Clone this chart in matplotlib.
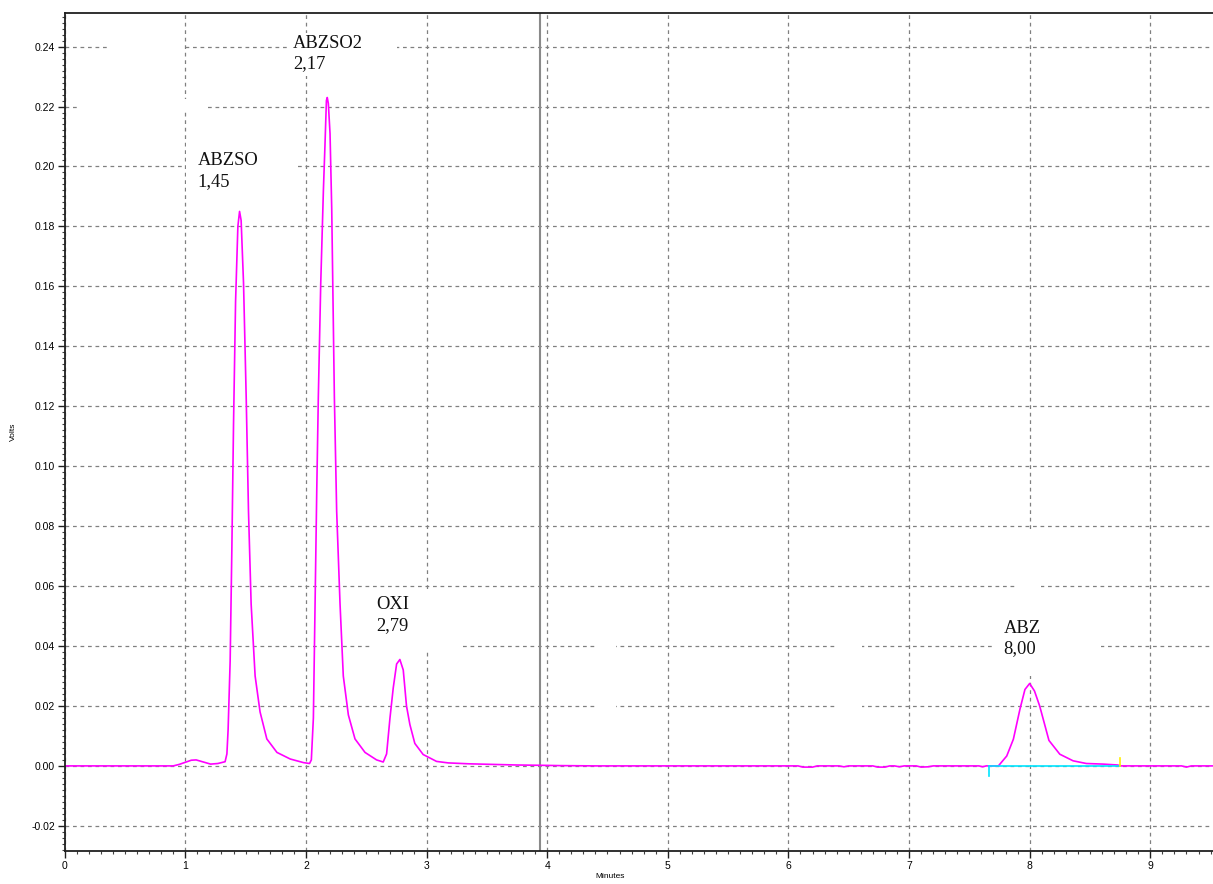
import matplotlib
matplotlib.use('Agg')
import matplotlib.pyplot as plt
from matplotlib.patches import Rectangle
from matplotlib.ticker import MultipleLocator, FormatStrFormatter
import numpy as np

# detector trace, read point by point (minutes, volts)
time_min = [0.00, 0.90, 0.95, 1.00, 1.05, 1.09, 1.15, 1.21, 1.27, 1.33,
            1.345, 1.355, 1.372, 1.386, 1.400, 1.417, 1.436, 1.450, 1.463, 1.483,
            1.505, 1.524, 1.546, 1.579, 1.620, 1.676, 1.76, 1.87, 1.98, 2.03,
            2.045, 2.062, 2.076, 2.090, 2.103, 2.123, 2.145, 2.158, 2.170, 2.177,
            2.186, 2.200, 2.214, 2.236, 2.255, 2.283, 2.310, 2.352, 2.407, 2.49,
            2.586, 2.641, 2.669, 2.697, 2.724, 2.752, 2.779, 2.807, 2.834, 2.862,
            2.903, 2.972, 3.083, 3.18, 3.35, 3.55, 3.75, 3.95, 4.10, 4.40,
            6.08, 6.12, 6.20, 6.24, 6.42, 6.46, 6.50, 6.70, 6.74, 6.80,
            6.84, 6.88, 6.92, 6.96, 7.06, 7.10, 7.16, 7.20, 7.58, 7.61,
            7.64, 7.741, 7.81, 7.865, 7.92, 7.961, 8.00, 8.04, 8.083, 8.16,
            8.25, 8.36, 8.47, 8.61, 8.73, 8.76, 9.26, 9.30, 9.34, 9.52]
volts = [0.0, 0.0, 0.0005, 0.0012, 0.0019, 0.0020, 0.0013, 0.0006, 0.0008, 0.0014,
         0.004, 0.012, 0.035, 0.072, 0.114, 0.155, 0.180, 0.185, 0.182, 0.161,
         0.123, 0.085, 0.054, 0.030, 0.018, 0.009, 0.0045, 0.0023, 0.0011, 0.0008,
         0.002, 0.016, 0.054, 0.092, 0.123, 0.161, 0.192, 0.207, 0.222, 0.223,
         0.221, 0.211, 0.186, 0.123, 0.085, 0.054, 0.030, 0.017, 0.009, 0.0045,
         0.002, 0.0013, 0.004, 0.016, 0.026, 0.034, 0.0355, 0.032, 0.020, 0.0138,
         0.0075, 0.0038, 0.0015, 0.0010, 0.0007, 0.0005, 0.0003, 0.0002, 0.0001, 0.0,
         0.0, -0.0004, -0.0004, 0.0, 0.0, -0.0003, 0.0, 0.0, -0.0004, -0.0004,
         0.0, 0.0, -0.0003, 0.0, 0.0, -0.0004, -0.0003, 0.0, 0.0, -0.0003,
         0.0, 0.0, 0.0033, 0.0089, 0.019, 0.0255, 0.0275, 0.025, 0.020, 0.0085,
         0.0039, 0.0017, 0.0008, 0.0006, 0.0003, 0.0, 0.0, -0.0004, 0.0, 0.0]

# peak labels
peak_names = ['ABZSO', 'ABZSO2', 'OXI', 'ABZ']
peak_rt = [1.45, 2.17, 2.79, 8.00]
label_xy = [(1.101, 0.2048), (1.891, 0.2440), (2.581, 0.0566), (7.783, 0.0488)]

# integration baseline for ABZ
base_start, base_end = 7.66, 8.745

# event marker
marker_t = 3.94

# white label areas that blank the grid
blank_boxes = [(0.359, 0.2375, 0.632, 0.005),
               (0.127, 0.2185, 1.045, 0.004),
               (1.007, 0.1906, 0.920, 0.0183),
               (1.859, 0.2302, 0.896, 0.0144),
               (2.556, 0.0389, 0.747, 0.0200),
               (4.405, 0.0182, 0.166, 0.0240),
               (6.396, 0.0182, 0.215, 0.0240),
               (7.714, 0.0356, 0.879, 0.0160),
               (7.905, 0.0299, 0.191, 0.0480)]

fig = plt.figure(figsize=(12.13, 8.84), dpi=100)
ax = fig.add_axes([0.0533, 0.0373, 0.9467, 0.948])

ax.set_xlim(0, 9.52)
ax.set_ylim(-0.0284, 0.2512)

ax.xaxis.set_major_locator(MultipleLocator(1))
ax.xaxis.set_minor_locator(MultipleLocator(0.1))
ax.yaxis.set_major_locator(MultipleLocator(0.02))
ax.yaxis.set_minor_locator(MultipleLocator(0.002))
ax.yaxis.set_major_formatter(FormatStrFormatter('%.2f'))
ax.xaxis.set_major_formatter(FormatStrFormatter('%d'))

ax.set_axisbelow(True)
ax.grid(True, which='major', color='#808080', linestyle=(0, (3, 3)), linewidth=0.9)

for side in ['left', 'bottom', 'top']:
    ax.spines[side].set_color('#202020')
    ax.spines[side].set_linewidth(1.3)
ax.spines['right'].set_visible(False)

ax.tick_params(which='major', direction='out', length=5, width=1, color='#202020',
               labelsize=7.5, pad=2)
ax.tick_params(which='minor', direction='out', length=2.5, width=0.8, color='#404040')
for lab in ax.get_xticklabels() + ax.get_yticklabels():
    lab.set_family('Liberation Sans')

for (bx, by, bw, bh) in blank_boxes:
    ax.add_patch(Rectangle((bx, by), bw, bh, facecolor='white', edgecolor='none', zorder=1))

ax.axvline(marker_t, color='#8a8a8a', linewidth=1.5, zorder=1.5)

ax.plot(time_min, volts, color='#ff00ff', linewidth=1.2, zorder=2)

# baseline drawn for ABZ, with its start/end ticks
ax.plot([base_start, base_end], [0.0, 0.0], color='#00e5ff', linewidth=1.2, zorder=2.5)
ax.plot([base_start, base_start], [0.0, -0.0033], color='#00e5ff', linewidth=1.2, zorder=2.5)
ax.plot([base_end, base_end], [0.0, 0.0028], color='#ffee00', linewidth=1.2, zorder=2.5)

for name, rt, (lx, ly) in zip(peak_names, peak_rt, label_xy):
    ax.text(lx, ly, name + '\n' + ('%.2f' % rt).replace('.', ','),
            ha='left', va='top', fontsize=13.3, family='Liberation Serif',
            color='#111111', linespacing=1.3, zorder=3)

fig.text(0.0115, 0.511, 'Volts', rotation=90, fontsize=6, family='Liberation Sans',
         ha='center', va='center')
fig.text(0.503, 0.004, 'Minutes', fontsize=6, family='Liberation Sans',
         ha='center', va='bottom')

fig.savefig('out.png', dpi=100)
